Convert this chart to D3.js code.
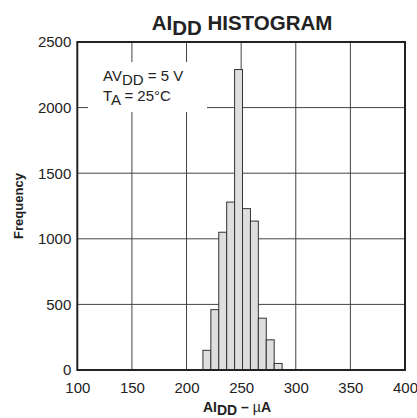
<!DOCTYPE html>
<html><head><meta charset="utf-8">
<script src="https://cdn.jsdelivr.net/npm/d3@7"></script>
<style>body{margin:0;background:#fff}svg{display:block}text{font-family:"Liberation Sans",Arial,sans-serif;fill:#222}</style>
</head><body><svg id="c" width="417" height="418"></svg>
<script>
const binStarts = [215, 222.25, 229.5, 236.75, 244, 251.25, 258.5, 265.75, 273, 280.25];
const binWidth = 7.25;
const counts = [150, 460, 1050, 1280, 2290, 1230, 1135, 395, 230, 50];
const xTicks = [100, 150, 200, 250, 300, 350, 400];
const yTicks = [0, 500, 1000, 1500, 2000, 2500];

const svg = d3.select("#c");
const L = 77.3, R = 405, T = 42, B = 370;
const x = d3.scaleLinear().domain([100, 400]).range([L, R]);
const y = d3.scaleLinear().domain([0, 2500]).range([B, T]);

// grid
const g = svg.append("g");
g.selectAll("line.v").data(xTicks.slice(1, -1)).join("line")
  .attr("x1", d => x(d)).attr("x2", d => x(d)).attr("y1", T).attr("y2", B)
  .attr("stroke", "#444").attr("stroke-width", 1);
g.selectAll("line.h").data(yTicks.slice(1, -1)).join("line")
  .attr("y1", d => y(d)).attr("y2", d => y(d)).attr("x1", L).attr("x2", R)
  .attr("stroke", "#444").attr("stroke-width", 1);

// annotation mask
svg.append("rect").attr("x", 88).attr("y", 62).attr("width", 119).attr("height", 50).attr("fill", "#fff");

// bars
const data = binStarts.map((s, i) => ({s, c: counts[i]}));
svg.selectAll("rect.bar").data(data).join("rect")
  .attr("x", d => x(d.s)).attr("width", d => x(d.s + binWidth) - x(d.s))
  .attr("y", d => y(d.c)).attr("height", d => y(0) - y(d.c))
  .attr("fill", "#dedede").attr("stroke", "#333").attr("stroke-width", 1);

// frame
svg.append("rect").attr("x", L).attr("y", T).attr("width", R - L).attr("height", B - T)
  .attr("fill", "none").attr("stroke", "#222").attr("stroke-width", 2);

// axes
const xa = svg.append("g").attr("transform", `translate(0,${B})`)
  .call(d3.axisBottom(x).tickValues(xTicks).tickFormat(d3.format("d")).tickSize(0).tickPadding(12));
xa.select(".domain").remove();
xa.selectAll("text").attr("font-size", 15).attr("font-family", '"Liberation Sans",Arial,sans-serif').attr("fill", "#222");
const ya = svg.append("g").attr("transform", `translate(${L},0)`)
  .call(d3.axisLeft(y).tickValues(yTicks).tickFormat(d3.format("d")).tickSize(0).tickPadding(6));
ya.select(".domain").remove();
ya.selectAll("text").attr("font-size", 15).attr("font-family", '"Liberation Sans",Arial,sans-serif').attr("fill", "#222");

// title
const t = svg.append("text").attr("x", 242).attr("y", 29.5).attr("text-anchor", "middle")
  .attr("font-size", 20.5).attr("font-weight", "bold");
t.append("tspan").text("AI");
t.append("tspan").attr("dy", 5).text("DD");
t.append("tspan").attr("dy", -5).text(" HISTOGRAM");

// annotation
const a1 = svg.append("text").attr("x", 103).attr("y", 81).attr("font-size", 15);
a1.append("tspan").text("AV");
a1.append("tspan").attr("dy", 4).text("DD");
a1.append("tspan").attr("dy", -4).text(" = 5 V");
const a2 = svg.append("text").attr("x", 103).attr("y", 101).attr("font-size", 15);
a2.append("tspan").text("T");
a2.append("tspan").attr("dy", 4).text("A");
a2.append("tspan").attr("dy", -4).text(" = 25\u00B0C");

// x label
const xl = svg.append("text").attr("x", 237).attr("y", 411.5).attr("text-anchor", "middle")
  .attr("font-size", 14).attr("font-weight", "bold");
xl.append("tspan").text("AI");
xl.append("tspan").attr("dy", 3.5).text("DD");
xl.append("tspan").attr("dy", -3.5).text(" \u2013 ");
xl.append("tspan").attr("font-weight", "normal").text("\u00B5");
xl.append("tspan").text("A");

// y label
svg.append("text").attr("transform", "translate(23,206) rotate(-90)").attr("text-anchor", "middle")
  .attr("font-size", 13).attr("font-weight", "bold").text("Frequency");
</script></body></html>
